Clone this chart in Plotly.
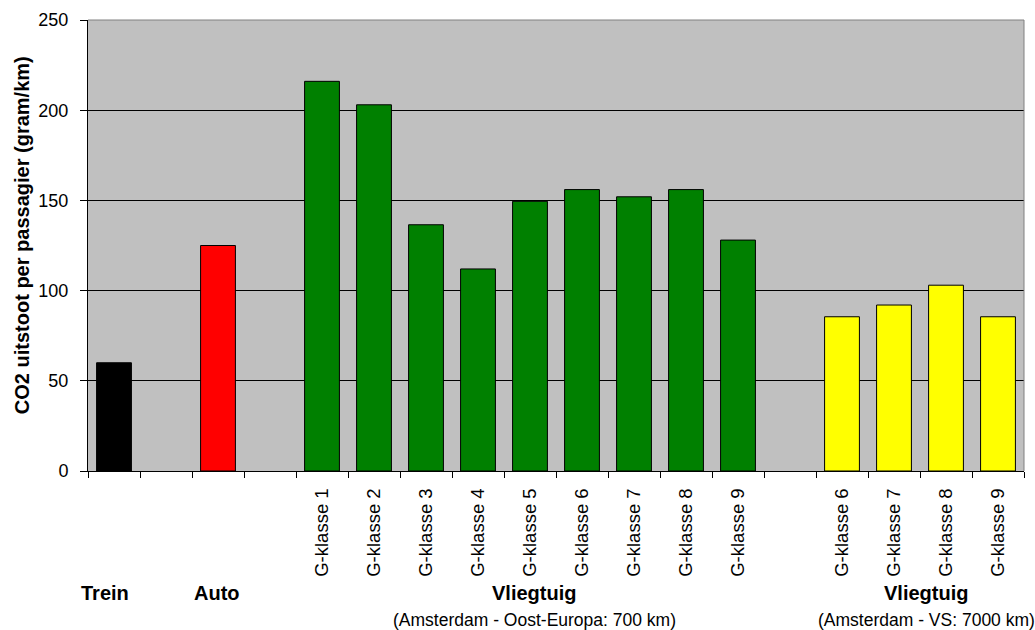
import plotly.graph_objects as go

# Category slots along the x axis (blank slots separate the groups)
slots = ["c0", "c1", "c2", "c3", "c4", "c5", "c6", "c7", "c8",
         "c9", "c10", "c11", "c12", "c13", "c14", "c15", "c16", "c17"]
tick_labels = ["", "", "", "",
               "G-klasse 1", "G-klasse 2", "G-klasse 3", "G-klasse 4", "G-klasse 5",
               "G-klasse 6", "G-klasse 7", "G-klasse 8", "G-klasse 9", "",
               "G-klasse 6", "G-klasse 7", "G-klasse 8", "G-klasse 9"]

# CO2 emission per passenger (gram/km); None = empty slot
co2 = [60, None, 125, None,
       216, 203, 136.5, 112, 149.5, 156, 152, 156, 128, None,
       85.5, 92, 103, 85.5]
bar_colors = ["#000000", "#000000", "#FF0000", "#000000",
              "#008000", "#008000", "#008000", "#008000", "#008000",
              "#008000", "#008000", "#008000", "#008000", "#000000",
              "#FFFF00", "#FFFF00", "#FFFF00", "#FFFF00"]

y_ticks = [0, 50, 100, 150, 200, 250]

FONT = "Arial, Liberation Sans, sans-serif"

fig = go.Figure(
    go.Bar(
        x=slots,
        y=co2,
        marker=dict(color=bar_colors, line=dict(color="#000000", width=1)),
        hoverinfo="skip",
    )
)

fig.update_layout(
    width=1035,
    height=630,
    margin=dict(l=88, r=11, t=20, b=159),
    paper_bgcolor="#FFFFFF",
    plot_bgcolor="#C0C0C0",
    bargap=0.33,
    showlegend=False,
    font=dict(family=FONT, size=18, color="#000000"),
)

fig.update_xaxes(
    type="category",
    categoryorder="array",
    categoryarray=slots,
    tickmode="array",
    tickvals=slots,
    ticktext=tick_labels,
    tickson="boundaries",
    ticks="outside",
    ticklen=6,
    tickcolor="#000000",
    tickangle=-90,
    tickfont=dict(family=FONT, size=18.5),
    ticklabelstandoff=9,
    showgrid=False,
    showline=True,
    linecolor="#000000",
    linewidth=1,
    zeroline=False,
    range=[-0.5, 17.5],
)

fig.update_yaxes(
    range=[0, 250],
    tickmode="array",
    tickvals=y_ticks,
    ticks="outside",
    ticklen=7,
    tickcolor="#000000",
    tickfont=dict(family=FONT, size=18),
    ticklabelstandoff=8,
    showgrid=True,
    gridcolor="#000000",
    gridwidth=1,
    showline=True,
    linecolor="#000000",
    linewidth=1,
    zeroline=False,
)

# Grey frame on the top and right side of the plot area
fig.add_shape(type="line", xref="paper", yref="paper", x0=0, x1=1, y0=1, y1=1,
              line=dict(color="#808080", width=1), layer="above")
fig.add_shape(type="line", xref="paper", yref="paper", x0=1, x1=1, y0=0, y1=1,
              line=dict(color="#808080", width=1), layer="above")

# Axis title
fig.add_annotation(
    text="<b>CO2 uitstoot per passagier (gram/km)</b>",
    xref="paper", yref="paper", x=-0.0705, y=0.523,
    textangle=-90, showarrow=False,
    font=dict(family=FONT, size=20),
    xanchor="center", yanchor="middle",
)

# Group labels under the category axis
groups = [
    (0, -9, "<b>Trein</b>", None),
    (2, -1, "<b>Auto</b>", None),
    (8, 4, "<b>Vliegtuig</b>", "(Amsterdam - Oost-Europa: 700 km)"),
    (15.5, 6, "<b>Vliegtuig</b>", "(Amsterdam - VS: 7000 km)"),
]
for xpos, shift, title, sub in groups:
    fig.add_annotation(
        text=title, x=xpos, xshift=shift, xref="x",
        yref="paper", y=(471 - 593) / 451, yanchor="middle",
        showarrow=False, font=dict(family=FONT, size=20),
    )
    if sub:
        fig.add_annotation(
            text=sub, x=xpos, xshift=shift, xref="x",
            yref="paper", y=(471 - 620) / 451, yanchor="middle",
            showarrow=False, font=dict(family=FONT, size=17.5),
        )

fig.write_html("out.html")
